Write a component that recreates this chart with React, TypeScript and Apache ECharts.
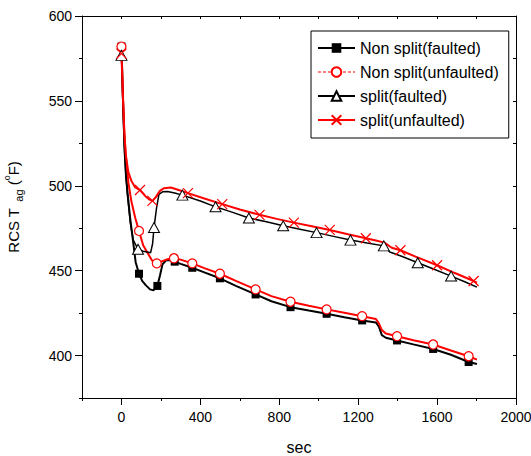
import React, { useEffect, useRef } from "react";
import * as echarts from "echarts";

// ---- data (sec, °F) ----
const nsfX = [0, 8, 15, 22, 30, 45, 56, 72, 89, 105, 123, 145, 162, 174, 182, 195, 208, 225, 241, 270, 300, 359, 420, 499, 580, 680, 760, 857, 950, 1040, 1130, 1220, 1290, 1305, 1320, 1340, 1397, 1480, 1580, 1670, 1760, 1802];
const nsfY = [582, 550, 525, 510, 497, 480, 470, 455, 448.2, 444, 441.5, 439, 438.4, 440, 441, 447, 453.7, 456, 456.3, 455.3, 454, 451.7, 449, 445.5, 441, 436, 432, 428.5, 426.5, 424.6, 422.6, 420.7, 419.5, 417, 412, 410.5, 408.9, 406.6, 403.9, 400.5, 396.2, 395];
const nsfMarks = [0, 89, 182, 270, 359, 499, 680, 857, 1040, 1220, 1397, 1580, 1760];

const nsuX = [0, 8, 15, 22, 35, 50, 70, 89, 110, 132, 155, 179, 205, 233, 266, 300, 359, 420, 499, 580, 680, 760, 857, 950, 1040, 1130, 1220, 1290, 1305, 1320, 1340, 1397, 1480, 1580, 1670, 1760, 1802];
const nsuY = [582, 552, 530, 518, 502, 491, 481, 473.4, 465, 460.6, 456, 454.3, 455.5, 456.7, 457.3, 456.5, 454.3, 451.5, 448.2, 444, 439, 435, 431.7, 429.3, 427.2, 425.2, 423.2, 421.5, 419, 415, 413, 411.4, 409, 406.5, 403, 399.6, 397.6];
const nsuMarks = [0, 89, 179, 266, 359, 499, 680, 857, 1040, 1220, 1397, 1580, 1760];

const sfX = [0, 8, 15, 22, 30, 45, 60, 84, 110, 130, 148, 158, 165, 178, 190, 210, 233, 270, 309, 400, 477, 560, 646, 735, 820, 905, 989, 1075, 1161, 1245, 1330, 1360, 1420, 1502, 1585, 1671, 1740, 1802];
const sfY = [576.8, 545, 520, 505, 495, 478, 468, 462.6, 461.5, 461, 460.6, 466, 475.4, 487, 495, 496.5, 496.6, 495.8, 494.5, 491, 487.6, 484.5, 481, 478.8, 476.4, 474.4, 472.4, 470.2, 468, 466.3, 464.6, 461, 458.5, 454.7, 450.8, 446.8, 443.5, 440.3];
const sfMarks = [0, 84, 165, 309, 477, 646, 820, 989, 1161, 1330, 1502, 1671];

const suX = [0, 8, 15, 22, 35, 50, 70, 94, 120, 140, 157, 175, 195, 216, 250, 290, 337, 420, 511, 600, 700, 787, 874, 965, 1056, 1148, 1239, 1290, 1333, 1370, 1414, 1500, 1600, 1690, 1785, 1802];
const suY = [577.8, 550, 530, 518, 508, 503, 499, 497.5, 494, 492, 491.1, 493.5, 497, 498.6, 499, 497.5, 495.7, 492.5, 489.2, 486, 482.9, 480.5, 478.3, 476.2, 474, 471.5, 469.1, 467.8, 466.5, 463.5, 462, 457.8, 453.2, 448.6, 443.9, 442.9];
const suMarks = [0, 94, 157, 337, 511, 700, 874, 1056, 1239, 1414, 1600, 1785];

const seriesNames = ["Non split(faulted)", "Non split(unfaulted)", "split(faulted)", "split(unfaulted)"];

const xMajor = [0, 400, 800, 1200, 1600, 2000];
const xMinor = [-200, 200, 600, 1000, 1400, 1800];
const yMajor = [400, 450, 500, 550, 600];
const yMinor = [375, 425, 475, 525, 575];

const FONT = "'Liberation Sans', Arial, sans-serif";

function build(xs: number[], ys: number[], marks: number[]) {
  return xs.map((x, i) => {
    const item: any = { value: [x, ys[i]] };
    if (!marks.includes(x)) item.symbol = "none";
    return item;
  });
}

const X_PATH = "path://M0,0L10,10M10,0L0,10";

export default function App() {
  const ref = useRef<HTMLDivElement>(null);
  useEffect(() => {
    if (!ref.current) return;
    const chart = echarts.init(ref.current, null, { renderer: "svg" });
    const axisLineStyle = { color: "#000", width: 1 };
    const plain = (v: number) => String(v);
    const option: any = {
      animation: false,
      backgroundColor: "#fff",
      grid: { left: 82, top: 16, right: 15, bottom: 58, containLabel: false, outerBoundsMode: "none" },
      legend: {
        orient: "vertical",
        left: 311,
        top: 31,
        selectedMode: false,
        itemWidth: 37,
        itemHeight: 12,
        itemGap: 8,
        padding: [9, 10, 10, 6],
        borderColor: "#000",
        borderWidth: 1,
        backgroundColor: "#fff",
        textStyle: { fontFamily: FONT, fontSize: 16, color: "#000", lineHeight: 16 },
        data: [
          { name: seriesNames[0] },
          { name: seriesNames[1], lineStyle: { type: [3, 2], width: 1 } },
          { name: seriesNames[2] },
          { name: seriesNames[3] },
        ],
      },
      xAxis: [
        {
          type: "value",
          position: "bottom",
          min: -200,
          max: 2000,
          name: "sec",
          nameLocation: "middle",
          nameGap: 41,
          nameTextStyle: { fontFamily: FONT, fontSize: 16, color: "#000", lineHeight: 16 },
          axisLine: { show: true, onZero: false, lineStyle: axisLineStyle },
          axisTick: { show: true, length: 7, lineStyle: axisLineStyle, customValues: xMajor },
          axisLabel: { customValues: xMajor, formatter: plain, fontFamily: FONT, fontSize: 14, color: "#000", margin: 12 },
          splitLine: { show: false },
        },
        {
          type: "value",
          position: "bottom",
          min: -200,
          max: 2000,
          axisLine: { show: false, onZero: false },
          axisTick: { show: true, length: 3, lineStyle: axisLineStyle, customValues: xMinor },
          axisLabel: { show: false },
          splitLine: { show: false },
        },
        {
          type: "value",
          position: "top",
          min: -200,
          max: 2000,
          axisLine: { show: true, onZero: false, lineStyle: axisLineStyle },
          axisTick: { show: true, inside: true, length: 3, lineStyle: axisLineStyle, customValues: xMajor.concat(xMinor) },
          axisLabel: { show: false },
          splitLine: { show: false },
        },
      ],
      yAxis: [
        {
          type: "value",
          position: "left",
          min: 375,
          max: 600,
          name: "{a|RCS T}{s|  ag}{a| (}{p|o}{a|F)}",
          nameLocation: "middle",
          nameGap: 58,
          nameTextStyle: {
            fontFamily: FONT,
            color: "#000",
            rich: {
              a: { fontFamily: FONT, fontSize: 15, color: "#000", lineHeight: 22, verticalAlign: "middle" },
              s: { fontFamily: FONT, fontSize: 11, color: "#000", lineHeight: 11, verticalAlign: "bottom" },
              p: { fontFamily: FONT, fontSize: 9, color: "#000", lineHeight: 9, verticalAlign: "top" },
            },
          },
          axisLine: { show: true, onZero: false, lineStyle: axisLineStyle },
          axisTick: { show: true, length: 7, lineStyle: axisLineStyle, customValues: yMajor },
          axisLabel: { customValues: yMajor, formatter: plain, fontFamily: FONT, fontSize: 14, color: "#000", margin: 10 },
          splitLine: { show: false },
        },
        {
          type: "value",
          position: "left",
          min: 375,
          max: 600,
          axisLine: { show: false, onZero: false },
          axisTick: { show: true, length: 3, lineStyle: axisLineStyle, customValues: yMinor },
          axisLabel: { show: false },
          splitLine: { show: false },
        },
        {
          type: "value",
          position: "right",
          min: 375,
          max: 600,
          axisLine: { show: true, onZero: false, lineStyle: axisLineStyle },
          axisTick: { show: true, inside: true, length: 3, lineStyle: axisLineStyle, customValues: yMajor.concat(yMinor) },
          axisLabel: { show: false },
          splitLine: { show: false },
        },
      ],
      series: [
        {
          name: seriesNames[0],
          type: "line",
          data: build(nsfX, nsfY, nsfMarks),
          symbol: "rect",
          symbolSize: 8,
          itemStyle: { color: "#000", borderColor: "#000", borderWidth: 0 },
          lineStyle: { color: "#000", width: 2 },
        },
        {
          name: seriesNames[1],
          type: "line",
          data: build(nsuX, nsuY, nsuMarks),
          symbol: "circle",
          symbolSize: 9,
          itemStyle: { color: "#fff", borderColor: "#ff0000", borderWidth: 1.2 },
          lineStyle: { color: "#ff0000", width: 2 },
        },
        {
          name: seriesNames[2],
          type: "line",
          data: build(sfX, sfY, sfMarks),
          symbol: "triangle",
          symbolSize: [11, 10],
          itemStyle: { color: "#fff", borderColor: "#000", borderWidth: 1 },
          lineStyle: { color: "#000", width: 1.5 },
        },
        {
          name: seriesNames[3],
          type: "line",
          data: build(suX, suY, suMarks),
          symbol: X_PATH,
          symbolSize: 10,
          itemStyle: { color: "#ff0000", borderColor: "#ff0000", borderWidth: 1.2 },
          lineStyle: { color: "#ff0000", width: 2 },
        },
      ],
    };
    chart.setOption(option);
    return () => chart.dispose();
  }, []);
  return (
    <div
      ref={ref}
      style={{ position: "fixed", left: 0, top: 0, width: 531, height: 456, background: "#fff" }}
    />
  );
}
